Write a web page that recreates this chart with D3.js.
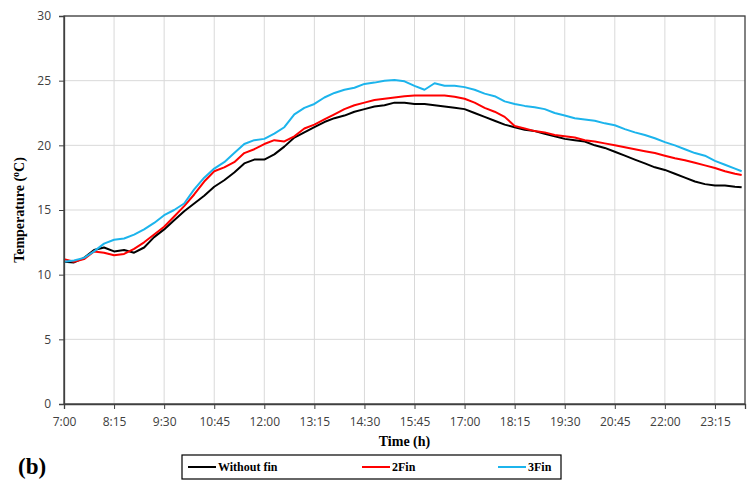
<!DOCTYPE html>
<html>
<head>
<meta charset="utf-8">
<script src="https://cdn.jsdelivr.net/npm/d3@7"></script>
<style>
  body { margin: 0; background: #fff; }
  svg { display: block; }
</style>
</head>
<body>
<div id="chart"></div>
<script>
// times of the readings (h:mm)
const times = ["7:00","7:15","7:30","7:45","8:00","8:15","8:30","8:45","9:00","9:15","9:30","9:45",
  "10:00","10:15","10:30","10:45","11:00","11:15","11:30","11:45","12:00","12:15","12:30","12:45",
  "13:00","13:15","13:30","13:45","14:00","14:15","14:30","14:45","15:00","15:15","15:30","15:45",
  "16:00","16:15","16:30","16:45","17:00","17:15","17:30","17:45","18:00","18:15","18:30","18:45",
  "19:00","19:15","19:30","19:45","20:00","20:15","20:30","20:45","21:00","21:15","21:30","21:45",
  "22:00","22:15","22:30","22:45","23:00","23:15","23:30","23:45","23:55"];

const withoutFin = [11.0,10.95,11.3,11.9,12.1,11.8,11.9,11.7,12.1,12.9,13.5,14.2,
  14.9,15.5,16.1,16.8,17.3,17.9,18.6,18.9,18.9,19.3,19.9,20.6,
  21.0,21.4,21.8,22.1,22.3,22.6,22.8,23.0,23.1,23.3,23.3,23.2,
  23.2,23.1,23.0,22.9,22.8,22.5,22.2,21.9,21.6,21.4,21.2,21.1,
  20.9,20.7,20.5,20.4,20.3,20.0,19.8,19.5,19.2,18.9,18.6,18.3,
  18.1,17.8,17.5,17.2,17.0,16.9,16.9,16.8,16.75];

const fin2 = [11.2,11.0,11.2,11.8,11.7,11.5,11.6,12.0,12.5,13.1,13.7,14.5,
  15.3,16.2,17.2,18.0,18.3,18.7,19.4,19.7,20.1,20.4,20.3,20.7,
  21.3,21.6,22.0,22.4,22.8,23.1,23.3,23.5,23.6,23.7,23.8,23.85,
  23.85,23.85,23.85,23.75,23.6,23.3,22.9,22.6,22.2,21.5,21.3,21.1,
  21.0,20.8,20.7,20.6,20.4,20.3,20.15,20.0,19.85,19.7,19.55,19.4,
  19.2,19.0,18.85,18.65,18.45,18.25,18.0,17.8,17.7];

const fin3 = [11.0,11.1,11.3,11.8,12.4,12.7,12.8,13.1,13.5,14.0,14.6,15.0,
  15.5,16.6,17.5,18.2,18.7,19.4,20.1,20.4,20.5,20.9,21.4,22.4,
  22.9,23.2,23.7,24.05,24.3,24.45,24.75,24.85,25.0,25.05,24.95,24.6,
  24.3,24.8,24.6,24.6,24.5,24.3,24.0,23.8,23.4,23.2,23.05,22.95,
  22.8,22.5,22.3,22.1,22.0,21.9,21.7,21.55,21.25,21.0,20.8,20.55,
  20.25,20.0,19.7,19.4,19.2,18.8,18.5,18.2,18.0];

const xTicks = ["7:00","8:15","9:30","10:45","12:00","13:15","14:30","15:45","17:00","18:15","19:30","20:45","22:00","23:15"];
const yTicks = [0, 5, 10, 15, 20, 25, 30];

const seriesNames = ["Without fin", "2Fin", "3Fin"];
const seriesColors = ["#000000", "#ff0000", "#1cb4ec"];

const width = 755, height = 482;
const margin = {left: 64, right: 10, top: 16, bottom: 78};

// minutes since midnight
function toMin(t) {
    const p = t.split(":");
    return +p[0] * 60 + +p[1];
}

const svg = d3.select("#chart")
    .append("svg")
    .attr("width", width)
    .attr("height", height);

const x = d3.scaleLinear()
    .domain([7 * 60, 24 * 60])
    .range([margin.left, width - margin.right]);

const y = d3.scaleLinear()
    .domain([0, 30])
    .range([height - margin.bottom, margin.top]);

// gridlines
svg.append("g")
    .selectAll("line")
    .data(xTicks)
    .join("line")
    .attr("x1", d => x(toMin(d)))
    .attr("x2", d => x(toMin(d)))
    .attr("y1", y(0))
    .attr("y2", y(30))
    .attr("stroke", "#d9d9d9")
    .attr("stroke-width", 1);

svg.append("g")
    .selectAll("line")
    .data(yTicks)
    .join("line")
    .attr("x1", x.range()[0])
    .attr("x2", x.range()[1])
    .attr("y1", d => y(d))
    .attr("y2", d => y(d))
    .attr("stroke", "#d9d9d9")
    .attr("stroke-width", 1);

// lines
const line = d3.line()
    .x((d, i) => x(toMin(times[i])))
    .y(d => y(d));

[withoutFin, fin2, fin3].forEach((vals, k) => {
    svg.append("path")
        .datum(vals)
        .attr("fill", "none")
        .attr("stroke", seriesColors[k])
        .attr("stroke-width", 2)
        .attr("stroke-linejoin", "round")
        .attr("d", line);
});

// frame
svg.append("rect")
    .attr("x", x.range()[0])
    .attr("y", y(30))
    .attr("width", x.range()[1] - x.range()[0])
    .attr("height", y(0) - y(30))
    .attr("fill", "none")
    .attr("stroke", "#404040")
    .attr("stroke-width", 1.3);

// axes
const xAxis = d3.axisBottom(x)
    .tickValues(xTicks.map(toMin))
    .tickFormat((d, i) => xTicks[i])
    .tickSize(5)
    .tickPadding(8);

const gx = svg.append("g")
    .attr("transform", `translate(0,${y(0)})`)
    .call(xAxis);

const yAxis = d3.axisLeft(y)
    .tickValues(yTicks)
    .tickSize(5)
    .tickPadding(8);

const gy = svg.append("g")
    .attr("transform", `translate(${x.range()[0]},0)`)
    .call(yAxis);

[gx, gy].forEach(g => {
    g.select(".domain").attr("stroke", "#404040").attr("stroke-width", 1.3);
    g.selectAll(".tick line").attr("stroke", "#404040");
    g.selectAll(".tick text")
        .attr("fill", "#404040")
        .style("font-family", "'Open Sans', 'Liberation Sans', sans-serif")
        .style("font-size", "12px");
});

// axis titles
svg.append("text")
    .attr("x", (x.range()[0] + x.range()[1]) / 2)
    .attr("y", 446)
    .attr("text-anchor", "middle")
    .style("font-family", "'Liberation Serif', serif")
    .style("font-weight", "bold")
    .style("font-size", "14px")
    .text("Time (h)");

const yt = svg.append("text")
    .attr("transform", `translate(24,${(y(0) + y(30)) / 2}) rotate(-90)`)
    .attr("text-anchor", "middle")
    .style("font-family", "'Liberation Serif', serif")
    .style("font-weight", "bold")
    .style("font-size", "14px");
yt.append("tspan").text("Temperature (");
yt.append("tspan").attr("dy", -5).style("font-size", "10px").text("o");
yt.append("tspan").attr("dy", 5).text("C)");

// panel label
svg.append("text")
    .attr("x", 18)
    .attr("y", 474)
    .style("font-family", "'Liberation Serif', serif")
    .style("font-weight", "bold")
    .style("font-size", "23px")
    .text("(b)");

// legend
const legend = svg.append("g");
legend.append("rect")
    .attr("x", 182)
    .attr("y", 455)
    .attr("width", 379)
    .attr("height", 24)
    .attr("fill", "#fff")
    .attr("stroke", "#000")
    .attr("stroke-width", 1.2);

const legendX = [188, 362, 498];
seriesNames.forEach((name, k) => {
    legend.append("line")
        .attr("x1", legendX[k])
        .attr("x2", legendX[k] + 28)
        .attr("y1", 467)
        .attr("y2", 467)
        .attr("stroke", seriesColors[k])
        .attr("stroke-width", 2);
    legend.append("text")
        .attr("x", legendX[k] + 30)
        .attr("y", 471)
        .style("font-family", "'Liberation Serif', serif")
        .style("font-weight", "bold")
        .style("font-size", "12px")
        .text(name);
});
</script>
</body>
</html>
